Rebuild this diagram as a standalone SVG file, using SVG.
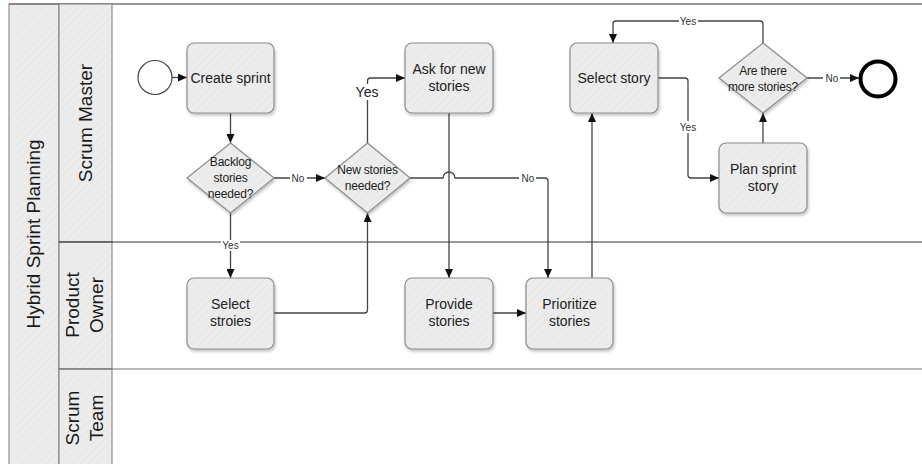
<svg xmlns="http://www.w3.org/2000/svg" width="922" height="464" viewBox="0 0 922 464">
<style>
.hdr{fill:url(#hatch);stroke:#7a7a7a;stroke-width:1}
.task{fill:url(#hatch);stroke:#8c8c8c;stroke-width:1.2;filter:url(#sh)}
.gw{fill:url(#hatch);stroke:#8c8c8c;stroke-width:1.2;filter:url(#sh)}
.t{font-family:"Liberation Sans",Arial,sans-serif;font-size:14px;fill:#222;text-anchor:middle}
.g{font-family:"Liberation Sans",Arial,sans-serif;font-size:12px;fill:#222;text-anchor:middle;letter-spacing:-0.2px}
.h{font-family:"Liberation Sans",Arial,sans-serif;font-size:19px;fill:#1a1a1a;text-anchor:middle}
.c{fill:none;stroke:#444;stroke-width:1.3;marker-end:url(#arr)}
.l{font-family:"Liberation Sans",Arial,sans-serif;font-size:10px;fill:#333;text-anchor:middle}
.lb{fill:#fff}
</style>
<defs>
<pattern id="hatch" width="6" height="6" patternUnits="userSpaceOnUse" patternTransform="rotate(45)">
<rect width="6" height="6" fill="#ececec"/>
<line x1="0" y1="0" x2="0" y2="6" stroke="#e5e5e5" stroke-width="1.5"/>
</pattern>
<filter id="sh" x="-20%" y="-20%" width="140%" height="150%">
<feDropShadow dx="1" dy="2" stdDeviation="1.5" flood-color="#000" flood-opacity="0.25"/>
</filter>
<marker id="arr" markerWidth="9" markerHeight="8" refX="9" refY="4" orient="auto" markerUnits="userSpaceOnUse">
<path d="M0,0 L9,4 L0,8 Z" fill="#111"/>
</marker>
</defs>
<rect width="922" height="464" fill="#fff"/>
<g id="pool">
<rect class="hdr" x="9" y="4" width="50" height="470"/>
<text class="h" transform="translate(40,234) rotate(-90)">Hybrid Sprint Planning</text>
<line x1="9" y1="4" x2="922" y2="4" stroke="#8a6f6f" stroke-width="1.3"/>
</g>
<g id="lane-scrum-master">
<rect class="hdr" x="59" y="4" width="53" height="238"/>
<text class="h" transform="translate(92,123) rotate(-90)">Scrum Master</text>
</g>
<g id="lane-product-owner">
<rect class="hdr" x="59" y="242" width="53" height="127"/>
<text class="h" transform="translate(79,305) rotate(-90)">Product</text>
<text class="h" transform="translate(103,305) rotate(-90)">Owner</text>
<line x1="59" y1="242" x2="922" y2="242" stroke="#333" stroke-width="1"/>
</g>
<g id="lane-scrum-team">
<rect class="hdr" x="59" y="369" width="53" height="105"/>
<text class="h" transform="translate(79,418) rotate(-90)">Scrum</text>
<text class="h" transform="translate(103,418) rotate(-90)">Team</text>
<line x1="59" y1="369" x2="922" y2="369" stroke="#777" stroke-width="1.2"/>
</g>
<g id="connectors">
<path class="c" d="M172,77.5 H187"/>
<path class="c" d="M230.5,113 V143"/>
<path class="c" d="M274,178 H325"/>
<path class="c" d="M230.5,213 V278"/>
<path class="c" d="M274,313 H364.5 Q367.5,313 367.5,310 V213"/>
<path class="c" d="M367.5,143 V81 Q367.5,78 370.5,78 H405"/>
<path class="c" d="M410,178 H443 A6,6 0 0 1 455,178 H545 Q548,178 548,181 V278"/>
<path class="c" d="M449,113 V278"/>
<path class="c" d="M493,313 H526"/>
<path class="c" d="M592,278 V113"/>
<path class="c" d="M658,78 H685 Q688,78 688,81 V175 Q688,178 691,178 H719"/>
<path class="c" d="M763,143 V113"/>
<path class="c" d="M763,43 V24 Q763,21 760,21 H616 Q613,21 613,24 V43"/>
<path class="c" d="M807,78 H859"/>
<rect class="lb" x="290" y="172" width="17" height="12"/><text class="l" x="298" y="182">No</text>
<rect class="lb" x="221" y="240" width="19" height="11"/><text class="l" x="230.5" y="249">Yes</text>
<rect class="lb" x="354" y="84" width="26" height="16"/><text class="t" x="367" y="97">Yes</text>
<rect class="lb" x="519" y="172" width="17" height="12"/><text class="l" x="528" y="182">No</text>
<rect class="lb" x="679" y="121" width="19" height="12"/><text class="l" x="688" y="131">Yes</text>
<rect class="lb" x="679" y="15" width="19" height="12"/><text class="l" x="688" y="25">Yes</text>
<rect class="lb" x="823" y="72" width="17" height="12"/><text class="l" x="832" y="82">No</text>
</g>
<g id="start">
<circle cx="155" cy="77.5" r="17" fill="#fff" stroke="#444" stroke-width="1.2"/>
</g>
<g id="end">
<circle cx="878" cy="79" r="17.5" fill="#fff" stroke="#000" stroke-width="4"/>
</g>
<g id="create-sprint">
<rect class="task" x="187" y="43" width="87" height="70" rx="7"/>
<text class="t" x="230.5" y="83">Create sprint</text>
</g>
<g id="backlog-needed">
<polygon class="gw" points="230.5,143 274,178 230.5,213 187,178"/>
<text class="g" x="230.5" y="166">Backlog</text>
<text class="g" x="230.5" y="182">stories</text>
<text class="g" x="230.5" y="198">needed?</text>
</g>
<g id="new-stories-needed">
<polygon class="gw" points="367.5,143 410,178 367.5,213 325,178"/>
<text class="g" x="367.5" y="174">New stories</text>
<text class="g" x="367.5" y="190">needed?</text>
</g>
<g id="ask-new-stories">
<rect class="task" x="405" y="43" width="88" height="70" rx="7"/>
<text class="t" x="449" y="74">Ask for new</text>
<text class="t" x="449" y="91">stories</text>
</g>
<g id="select-story">
<rect class="task" x="570" y="43" width="88" height="70" rx="7"/>
<text class="t" x="614" y="83">Select story</text>
</g>
<g id="more-stories">
<polygon class="gw" points="763,43 807,78 763,113 719,78"/>
<text class="g" x="763" y="75">Are there</text>
<text class="g" x="763" y="91">more stories?</text>
</g>
<g id="plan-sprint-story">
<rect class="task" x="719" y="143" width="88" height="70" rx="7"/>
<text class="t" x="763" y="174">Plan sprint</text>
<text class="t" x="763" y="191">story</text>
</g>
<g id="select-stroies">
<rect class="task" x="187" y="278" width="87" height="71" rx="7"/>
<text class="t" x="230.5" y="309">Select</text>
<text class="t" x="230.5" y="326">stroies</text>
</g>
<g id="provide-stories">
<rect class="task" x="405" y="278" width="88" height="71" rx="7"/>
<text class="t" x="449" y="309">Provide</text>
<text class="t" x="449" y="326">stories</text>
</g>
<g id="prioritize-stories">
<rect class="task" x="526" y="278" width="87" height="71" rx="7"/>
<text class="t" x="569.5" y="309">Prioritize</text>
<text class="t" x="569.5" y="326">stories</text>
</g>
</svg>
